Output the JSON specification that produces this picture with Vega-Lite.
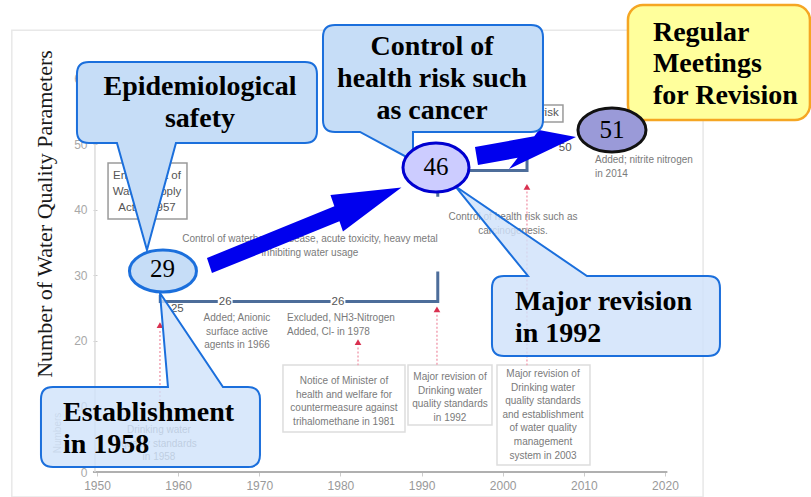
{
  "$schema": "https://vega.github.io/schema/vega-lite/v6.json",
  "width": 714,
  "height": 472,
  "autosize": "none",
  "padding": {"left": 97, "top": 0, "right": 0, "bottom": 25},
  "background": "white",
  "config": {"view": {"stroke": null}, "font": "Liberation Sans"},
  "datasets": {
    "frame": [{"x": 1939.5, "x2": 2024.7, "y": 67.4, "y2": -3.8}],
    "xaxis": [{"x": 1949.5, "x2": 2020.3, "y": 0}],
    "yaxis": [{"x": 1949.75, "y": 0, "y2": 50}],
    "boxDark": [
      {"x": 1951.36, "x2": 1961.09, "y": 47.14, "y2": 38.59},
      {"x": 1996.0, "x2": 2007.43, "y": 55.98, "y2": 53.39}
    ],
    "boxLight": [
      {"x": 1972.92, "x2": 1987.96, "y": 16.32, "y2": 6.1},
      {"x": 1988.33, "x2": 1998.68, "y": 16.32, "y2": 7.17},
      {"x": 1999.3, "x2": 2010.76, "y": 16.32, "y2": 1.07}
    ],
    "pink": [
      {"x": 1957.76, "y": 21.5, "y2": 8.0},
      {"x": 1982.17, "y": 19.0, "y2": 16.3},
      {"x": 1991.9, "y": 24.0, "y2": 16.3},
      {"x": 2002.99, "y": 42.8, "y2": 16.3}
    ],
    "marks": [
      {"x": 1957.76, "y": 22.4},
      {"x": 1982.17, "y": 19.8},
      {"x": 1991.9, "y": 24.8},
      {"x": 2002.99, "y": 43.5}
    ],
    "step": [
      {"i": 1, "s": "a", "x": 1957.8, "y": 27},
      {"i": 2, "s": "a", "x": 1957.8, "y": 26},
      {"i": 3, "s": "a", "x": 1992, "y": 26},
      {"i": 4, "s": "a", "x": 1992, "y": 30.6},
      {"i": 5, "s": "b", "x": 1992, "y": 42},
      {"i": 6, "s": "b", "x": 1992, "y": 46},
      {"i": 7, "s": "b", "x": 2003, "y": 46},
      {"i": 8, "s": "b", "x": 2003, "y": 49.5},
      {"i": 9, "s": "b", "x": 2006, "y": 49.5}
    ],
    "labelBg": [
      {"x": 1965.8, "y": 25.93},
      {"x": 1979.7, "y": 25.93}
    ],
    "lineLabels": [
      {"x": 1959.9, "y": 24.9, "t": "25"},
      {"x": 1965.8, "y": 25.93, "t": "26"},
      {"x": 1979.7, "y": 25.93, "t": "26"},
      {"x": 2007.7, "y": 49.4, "t": "50"}
    ],
    "noteCenter": [
      {"x": 1967.25, "y": 23.49, "t": "Added; Anionic|surface active|agents in 1966"},
      {"x": 1980.44, "y": 13.88, "t": "Notice of Minister of|health and welfare for|countermeasure against|trihalomethane in 1981"},
      {"x": 1993.51, "y": 14.49, "t": "Major revision of|Drinking water|quality standards|in 1992"},
      {"x": 2004.97, "y": 14.95, "t": "Major revision of|Drinking water|quality standards|and establishment|of water quality|management|system in 2003"},
      {"x": 1957.64, "y": 6.41, "t": "Drinking water|quality standards|in 1958"},
      {"x": 1976.25, "y": 35.54, "t": "Control of waterborne disease, acute toxicity, heavy metal|inhibiting water usage"},
      {"x": 2001.27, "y": 38.9, "t": "Control of health risk such as|carcinogenesis."}
    ],
    "noteLeft": [
      {"x": 1973.42, "y": 23.49, "t": "Excluded, NH3-Nitrogen|Added, Cl- in 1978"},
      {"x": 2011.38, "y": 47.59, "t": "Added; nitrite nitrogen|in 2014"}
    ],
    "enact": [
      {"x": 1956.16, "y": 45.15, "t": "Enactment of|Water Supply|Act in 1957"}
    ],
    "riskLbl": [{"x": 2006.9, "y": 54.7, "t": "health risk"}],
    "numbersLbl": [{"x": 1945.19, "y": 5.95, "t": "Numbers"}],
    "ytitle": [{"x": 1943.59, "y": 39.36, "t": "Number of Water Quality Parameters"}],
    "arrow1": [{"x": 1963.86, "y": 31.5}],
    "arrow2": [{"x": 1996.77, "y": 48.2}],
    "call1": [{"x": 1962.32, "y": 56.36}],
    "call2": [{"x": 1991.41, "y": 60.03}],
    "call3": [{"x": 2012.73, "y": 23.8}],
    "call4": [{"x": 1956.59, "y": 6.86}],
    "call5": [{"x": 2015.44, "x2": 2037.87, "y": 71.24, "y2": 53.69}],
    "e29": [{"x": 1958.13, "y": 30.66}],
    "e46": [{"x": 1991.78, "y": 46.45}],
    "e51": [{"x": 2013.47, "y": 52.17}],
    "nums": [
      {"x": 1958.07, "y": 30.97, "t": "29"},
      {"x": 1991.78, "y": 46.45, "t": "46"},
      {"x": 2013.47, "y": 52.17, "t": "51"}
    ],
    "callTextCenter": [
      {"x": 1962.69, "y": 58.73, "t": "Epidemiological|safety"},
      {"x": 1991.29, "y": 64.83, "t": "Control of|health risk such|as cancer"}
    ],
    "callTextLeft": [
      {"x": 2001.52, "y": 25.93, "t": "Major revision|in 1992"},
      {"x": 1945.81, "y": 9.0, "t": "Establishment|in 1958"},
      {"x": 2018.52, "y": 66.97, "t": "Regular|Meetings|for Revision"}
    ]
  },
  "encoding": {
    "x": {
      "field": "x", "type": "quantitative",
      "scale": {"domain": [1950, 2038], "nice": false, "zero": false},
      "axis": {"values": [1950, 1960, 1970, 1980, 1990, 2000, 2010, 2020], "format": "d", "title": null, "grid": false, "domain": false, "labelFlush": false, "labelColor": "#999999", "labelFontSize": 12, "tickColor": "#cccccc", "tickSize": 4, "labelPadding": 4}
    },
    "y": {
      "field": "y", "type": "quantitative",
      "scale": {"domain": [0, 72], "nice": false, "zero": false},
      "axis": {"values": [0, 10, 20, 30, 40, 50, 60], "title": null, "grid": false, "domain": false, "labelFlush": false, "labelColor": "#a8a8a8", "labelFontSize": 12, "tickColor": "#cccccc", "tickSize": 4, "labelPadding": 6}
    }
  },
  "layer": [
    {"data": {"name": "frame"}, "mark": {"type": "rect", "filled": false, "stroke": "#e8e8e8", "strokeWidth": 1.5}, "encoding": {"x2": {"field": "x2"}, "y2": {"field": "y2"}}},
    {"data": {"name": "xaxis"}, "mark": {"type": "rule", "color": "#b0b0b0", "strokeWidth": 2}, "encoding": {"x2": {"field": "x2"}}},
    {"data": {"name": "yaxis"}, "mark": {"type": "rule", "color": "#dcdcdc", "strokeWidth": 1.5}, "encoding": {"y2": {"field": "y2"}}},
    {"data": {"name": "boxDark"}, "mark": {"type": "rect", "fill": "white", "stroke": "#9a9a9a", "strokeWidth": 1.5}, "encoding": {"x2": {"field": "x2"}, "y2": {"field": "y2"}}},
    {"data": {"name": "boxLight"}, "mark": {"type": "rect", "fill": "white", "stroke": "#dddddd", "strokeWidth": 1.5}, "encoding": {"x2": {"field": "x2"}, "y2": {"field": "y2"}}},
    {"data": {"name": "pink"}, "mark": {"type": "rule", "color": "#f2a3b4", "strokeWidth": 1.5, "strokeDash": [2, 2]}, "encoding": {"y2": {"field": "y2"}}},
    {"data": {"name": "marks"}, "mark": {"type": "point", "shape": "triangle-up", "filled": true, "color": "#d9304f", "size": 45, "opacity": 1}},
    {"data": {"name": "step"}, "mark": {"type": "line", "color": "#4d6d9a", "strokeWidth": 3}, "encoding": {"detail": {"field": "s"}, "order": {"field": "i"}}},
    {"data": {"name": "labelBg"}, "mark": {"type": "point", "shape": "square", "filled": true, "color": "white", "size": 220, "opacity": 1}},
    {"data": {"name": "lineLabels"}, "mark": {"type": "text", "fontSize": 11.5, "color": "#555555", "align": "center", "baseline": "middle"}, "encoding": {"text": {"field": "t"}}},
    {"data": {"name": "noteCenter"}, "mark": {"type": "text", "fontSize": 10, "color": "#7a7a7a", "align": "center", "baseline": "middle", "lineBreak": "|", "lineHeight": 13.6}, "encoding": {"text": {"field": "t"}}},
    {"data": {"name": "noteLeft"}, "mark": {"type": "text", "fontSize": 10, "color": "#7a7a7a", "align": "left", "baseline": "middle", "lineBreak": "|", "lineHeight": 13.6}, "encoding": {"text": {"field": "t"}}},
    {"data": {"name": "enact"}, "mark": {"type": "text", "fontSize": 11.5, "color": "#555555", "align": "center", "baseline": "middle", "lineBreak": "|", "lineHeight": 16}, "encoding": {"text": {"field": "t"}}},
    {"data": {"name": "riskLbl"}, "mark": {"type": "text", "fontSize": 11.5, "color": "#555555", "align": "right", "baseline": "middle"}, "encoding": {"text": {"field": "t"}}},
    {"data": {"name": "numbersLbl"}, "mark": {"type": "text", "fontSize": 10, "color": "#b0b0b0", "angle": 270, "align": "center", "baseline": "middle"}, "encoding": {"text": {"field": "t"}}},
    {"data": {"name": "ytitle"}, "mark": {"type": "text", "font": "Liberation Serif", "fontSize": 22, "color": "#1a1a1a", "angle": 270, "align": "center", "baseline": "middle"}, "encoding": {"text": {"field": "t"}}},
    {"data": {"name": "arrow1"}, "mark": {"type": "point", "shape": "M -2.5 -7.5 L 124.9 -59.2 L 121 -70.5 L 192 -78 L 133.5 -34 L 130 -44.2 L 2.5 7.5 Z", "size": 4, "filled": true, "fill": "#0000ee", "strokeWidth": 0, "opacity": 1}},
    {"data": {"name": "arrow2"}, "mark": {"type": "point", "shape": "M -1.5 -9 L 57.8 -19.8 L 62.5 -26 L 99.5 -19 L 32.5 13 L 41.2 1.7 L 1.5 9 Z", "size": 4, "filled": true, "fill": "#0000ee", "strokeWidth": 0, "opacity": 1}},
    {"data": {"name": "call1"}, "mark": {"type": "point", "shape": "M -108 -40.5 L 108 -40.5 Q 120 -40.5 120 -28.5 L 120 28.5 Q 120 40.5 108 40.5 L -21 40.5 L -50 147.5 L -80 40.5 L -108 40.5 Q -120 40.5 -120 28.5 L -120 -28.5 Q -120 -40.5 -108 -40.5 Z", "size": 4, "filled": true, "fill": "#c6ddf7", "stroke": "#1b6fdc", "strokeWidth": 2, "opacity": 1}},
    {"data": {"name": "call2"}, "mark": {"type": "point", "shape": "M -98 -53.5 L 98 -53.5 Q 110 -53.5 110 -41.5 L 110 41.5 Q 110 53.5 98 53.5 L -20 53.5 L -20 82 L -73 53.5 L -98 53.5 Q -110 53.5 -110 41.5 L -110 -41.5 Q -110 -53.5 -98 -53.5 Z", "size": 4, "filled": true, "fill": "#c6ddf7", "stroke": "#1b6fdc", "strokeWidth": 2, "opacity": 1}},
    {"data": {"name": "call3"}, "mark": {"type": "point", "shape": "M -102 -40 L -78 -40 L -151 -130 L -19 -40 L 102 -40 Q 114 -40 114 -28 L 114 28 Q 114 40 102 40 L -102 40 Q -114 40 -114 28 L -114 -28 Q -114 -40 -102 -40 Z", "size": 4, "filled": true, "fill": "#cfe2fa", "fillOpacity": 0.82, "stroke": "#1b6fdc", "strokeWidth": 2, "opacity": 1}},
    {"data": {"name": "call4"}, "mark": {"type": "point", "shape": "M -97.5 -40 L 17.5 -40 L 9.5 -134 L 72.5 -40 L 97.5 -40 Q 109.5 -40 109.5 -28 L 109.5 28 Q 109.5 40 97.5 40 L -97.5 40 Q -109.5 40 -109.5 28 L -109.5 -28 Q -109.5 -40 -97.5 -40 Z", "size": 4, "filled": true, "fill": "#cfe2fa", "fillOpacity": 0.8, "stroke": "#1b6fdc", "strokeWidth": 2, "opacity": 1}},
    {"data": {"name": "call5"}, "mark": {"type": "rect", "fill": "#ffff9c", "stroke": "#f5a623", "strokeWidth": 2.5, "cornerRadius": 15}, "encoding": {"x2": {"field": "x2"}, "y2": {"field": "y2"}}},
    {"data": {"name": "e29"}, "mark": {"type": "point", "shape": "M -33.5 0 C -33.5 -11.6 -18.5 -21 0 -21 C 18.5 -21 33.5 -11.6 33.5 0 C 33.5 11.6 18.5 21 0 21 C -18.5 21 -33.5 11.6 -33.5 0 Z", "size": 4, "filled": true, "fill": "#c6ddf7", "stroke": "#1b6fdc", "strokeWidth": 3, "opacity": 1}},
    {"data": {"name": "e46"}, "mark": {"type": "point", "shape": "M -33 0 C -33 -13.5 -18.2 -24.5 0 -24.5 C 18.2 -24.5 33 -13.5 33 0 C 33 13.5 18.2 24.5 0 24.5 C -18.2 24.5 -33 13.5 -33 0 Z", "size": 4, "filled": true, "fill": "#ccccff", "stroke": "#0000d0", "strokeWidth": 3, "opacity": 1}},
    {"data": {"name": "e51"}, "mark": {"type": "point", "shape": "M -34 0 C -34 -12.2 -18.8 -22 0 -22 C 18.8 -22 34 -12.2 34 0 C 34 12.2 18.8 22 0 22 C -18.8 22 -34 12.2 -34 0 Z", "size": 4, "filled": true, "fill": "#9a9ad8", "stroke": "#111111", "strokeWidth": 3, "opacity": 1}},
    {"data": {"name": "nums"}, "mark": {"type": "text", "font": "Liberation Serif", "fontSize": 25, "color": "#000000", "align": "center", "baseline": "middle"}, "encoding": {"text": {"field": "t"}}},
    {"data": {"name": "callTextCenter"}, "mark": {"type": "text", "font": "Liberation Serif", "fontWeight": "bold", "fontSize": 28, "color": "#000000", "align": "center", "baseline": "middle", "lineBreak": "|", "lineHeight": 32}, "encoding": {"text": {"field": "t"}}},
    {"data": {"name": "callTextLeft"}, "mark": {"type": "text", "font": "Liberation Serif", "fontWeight": "bold", "fontSize": 28, "color": "#000000", "align": "left", "baseline": "middle", "lineBreak": "|", "lineHeight": 31.5}, "encoding": {"text": {"field": "t"}}}
  ]
}
